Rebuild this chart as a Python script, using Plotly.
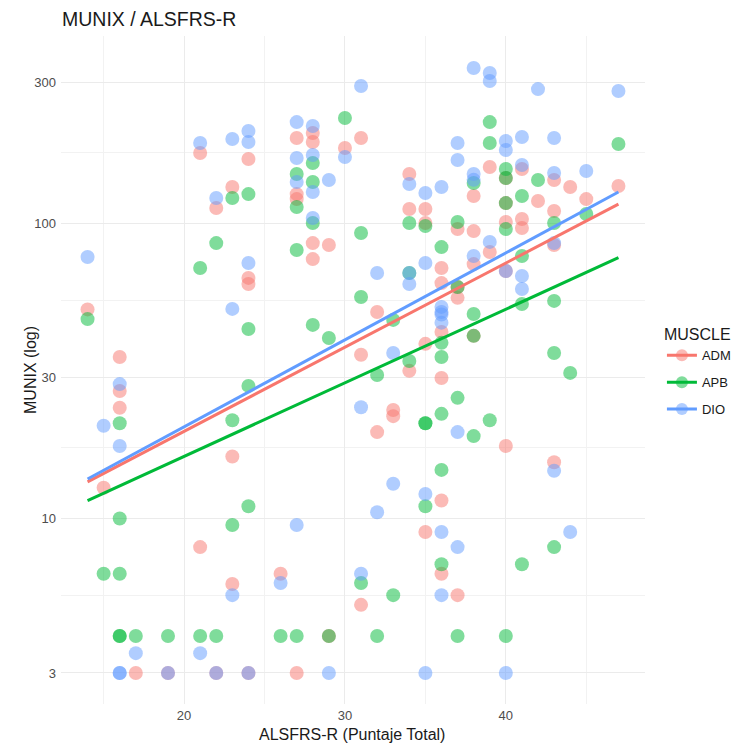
import plotly.graph_objects as go

# ---- data ----
adm_x = [14, 15, 16, 16, 16, 17, 19, 21, 21, 22, 22, 23, 23, 23, 24, 24, 24, 24, 26,
         27, 27, 27, 27, 28, 28, 28, 28, 29, 29, 30, 31, 31, 31, 32, 32, 33, 33,
         34, 34, 34, 35, 35, 35, 35, 36, 36, 36, 36, 36, 36, 37, 37, 37, 37,
         38, 38, 38, 38, 39, 39, 40, 40, 40, 40, 40, 41, 41, 41, 42, 43, 43, 43, 43,
         44, 45, 47]
adm_y = [51, 12.7, 35.2, 27, 23.7, 3, 3, 172.5, 8, 112.4, 3, 132.4, 16.2, 6, 164.7, 65.2, 62.2, 3, 6.5,
         193.9, 125.3, 120.5, 3, 201.6, 188, 85.5, 75.5, 84.3, 4, 179.4, 193.9, 35.8, 5.1, 50, 19.6, 23.3, 22.2,
         146.5, 111.5, 31.6, 111.5, 100, 39, 9, 70.4, 62.6, 42.8, 29.9, 11.5, 6.5, 95.4, 60.7, 55.8, 5.5,
         123.4, 93.9, 72.6, 41.5, 154.7, 79.8, 142, 116.8, 100.8, 68.8, 17.6, 152.3, 103.2, 96.2, 118.7,
         139.8, 109.8, 84.3, 15.5, 132.4, 120.5, 133.4]

apb_x = [14, 15, 16, 16, 16, 16, 16, 17, 19, 21, 21, 22, 22, 23, 23, 23, 24, 24, 24, 24, 26,
         27, 27, 27, 27, 28, 28, 28, 28, 29, 29, 30, 31, 31, 31, 32, 32, 33, 33, 34, 34, 34,
         35, 35, 35, 35, 36, 36, 36, 36, 36, 36, 37, 37, 37, 37, 38, 38, 38, 38, 39, 39, 39,
         40, 40, 40, 40, 40, 41, 41, 41, 41, 42, 43, 43, 43, 43, 44, 45, 47]
apb_y = [47.3, 6.5, 21, 10, 6.5, 4, 4, 4, 4, 70.4, 4, 85.5, 4, 121.5, 21.5, 9.5, 125.3, 43.8, 28.1, 11, 4,
         146.5, 113.3, 81, 4, 159.6, 137.6, 100, 45.2, 40.8, 4, 226.6, 92.5, 56.2, 6.05, 30.6, 4, 47, 5.5, 100, 67.7, 34.1,
         97.7, 21, 21, 11, 82.9, 39.3, 35.2, 22.6, 14.6, 7, 100.8, 60.7, 25.6, 4, 136.6, 49.2, 41.5, 19, 219.6, 186.5, 21.5,
         152.3, 142, 116.8, 95.4, 4, 123.4, 77.3, 53.2, 7, 139.8, 100, 54.5, 36.3, 8, 31.1, 107.3, 185.1]

dio_x = [14, 15, 16, 16, 16, 16, 17, 19, 21, 21, 22, 22, 23, 23, 23, 24, 24, 24, 24, 26,
         27, 27, 27, 27, 28, 28, 28, 28, 29, 29, 30, 31, 31, 31, 32, 32, 33, 33, 34, 34, 34,
         35, 35, 35, 35, 36, 36, 36, 36, 36, 36, 36, 37, 37, 37, 37, 38, 38, 38, 38, 39, 39, 39,
         40, 40, 40, 40, 41, 41, 41, 41, 42, 43, 43, 43, 43, 44, 45, 47]
dio_y = [76.7, 20.6, 28.5, 17.6, 3, 3, 3.5, 3, 186.5, 3.5, 121.5, 3, 192.4, 51.2, 5.5, 204.8, 188, 73.2, 3, 6.05,
         219.6, 166, 137.6, 9.5, 212.9, 169.9, 127.3, 104, 139.8, 3, 167.3, 290.8, 23.8, 6.5, 67.7, 10.5, 36.3, 13.1,
         135.5, 67.7, 62.2, 126.3, 73.2, 12.1, 3, 132.4, 52, 50, 49, 46, 9, 5.5, 186.5, 163.4, 19.6, 8,
         334.6, 146.5, 140, 77.3, 321.9, 302.4, 86.3, 189.4, 176.6, 68.8, 3, 195.4, 157.1, 66.2, 59.8, 284,
         193.9, 147.6, 85.5, 14.5, 9, 150, 279.7]

# fitted (lm on log scale) line end points
fit_x = [14, 47]
fit_adm = [13.3, 115.9]
fit_apb = [11.5, 76.3]
fit_dio = [13.6, 127.3]

muscles = ["ADM", "APB", "DIO"]
colors = {"ADM": "#F8766D", "APB": "#00BA38", "DIO": "#619CFF"}
pts = {"ADM": (adm_x, adm_y), "APB": (apb_x, apb_y), "DIO": (dio_x, dio_y)}
fits = {"ADM": fit_adm, "APB": fit_apb, "DIO": fit_dio}

y_ticks = [3, 10, 30, 100, 300]
y_minor = [5.477, 17.32, 54.77, 173.2]
x_ticks = [20, 30, 40]
x_minor = [15, 25, 35, 45]

FONT = "Liberation Sans, Arial, sans-serif"

fig = go.Figure()
for m in muscles:
    x, y = pts[m]
    fig.add_trace(go.Scatter(x=x, y=y, mode="markers", showlegend=False,
                             marker=dict(size=14, color=colors[m], opacity=0.5, line=dict(width=0)),
                             hoverinfo="skip"))
for m in muscles:
    fig.add_trace(go.Scatter(x=fit_x, y=fits[m], mode="lines", showlegend=False,
                             line=dict(color=colors[m], width=3)))
for m in muscles:
    fig.add_trace(go.Scatter(x=[None], y=[None], mode="lines+markers", name=m,
                             legendgroup=m,
                             line=dict(color=colors[m], width=3),
                             marker=dict(size=12, color=colors[m], opacity=0.5)))

L, R, T, B = 61, 645, 36, 704
W, H = 740, 747
PW, PH = R - L, B - T

fig.update_layout(
    width=W, height=H,
    margin=dict(l=L, r=W - R, t=T, b=H - B, autoexpand=False),
    paper_bgcolor="white", plot_bgcolor="white",
    font=dict(family=FONT, color="#1a1a1a"),
    title=dict(text="MUNIX / ALSFRS-R", x=62 / W, xref="container", xanchor="left",
               y=1 - 19 / H, yref="container", yanchor="middle",
               font=dict(size=19.5, color="#1a1a1a", family=FONT)),
    legend=dict(title=dict(text="MUSCLE", font=dict(size=16, color="#1a1a1a")),
                font=dict(size=13, color="#1a1a1a"),
                x=1.029, xanchor="left", y=0.497, yanchor="middle",
                traceorder="grouped", tracegroupgap=7, itemwidth=30,
                bgcolor="rgba(0,0,0,0)"),
    xaxis=dict(range=[12.35, 48.65], tickvals=x_ticks, ticktext=[str(v) for v in x_ticks],
               showgrid=True, gridcolor="#EBEBEB", gridwidth=1, zeroline=False, showline=False,
               ticks="", tickfont=dict(size=13, color="#4D4D4D"), ticklabelstandoff=2,
               automargin=False,
               minor=dict(tickvals=x_minor, showgrid=True, gridcolor="#F2F2F2", gridwidth=1, ticks="")),
    yaxis=dict(type="log", range=[0.372, 2.633], tickvals=y_ticks, ticktext=[str(v) for v in y_ticks],
               showgrid=True, gridcolor="#EBEBEB", gridwidth=1, zeroline=False, showline=False,
               ticks="", tickfont=dict(size=13, color="#4D4D4D"), ticklabelstandoff=4,
               automargin=False,
               minor=dict(tickvals=y_minor, showgrid=True, gridcolor="#F2F2F2", gridwidth=1, ticks="")),
    annotations=[
        dict(text="MUNIX (log)", textangle=-90, xref="paper", yref="paper",
             x=(30 - L) / PW, y=0.5, xanchor="center", yanchor="middle",
             showarrow=False, font=dict(size=16, color="#1a1a1a", family=FONT)),
        dict(text="ALSFRS-R (Puntaje Total)", xref="paper", yref="paper",
             x=(352 - L) / PW, y=-(734 - B) / PH, xanchor="center", yanchor="middle",
             showarrow=False, font=dict(size=16, color="#1a1a1a", family=FONT)),
    ],
)

fig.write_html("out.html")
